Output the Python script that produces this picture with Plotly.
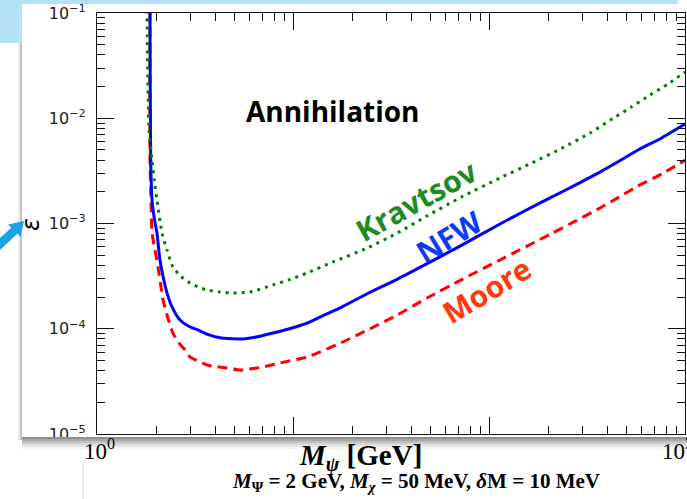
import plotly.graph_objects as go

# ---------------- data ----------------
nfw_x = [1.863, 1.864, 1.879, 1.909, 1.96, 2.023, 2.095, 2.18, 2.275, 2.40, 2.652, 2.95, 3.24, 3.70, 4.24,
         4.90, 5.56, 6.60, 7.91, 9.6, 11.8, 14.3, 17.4, 23.9, 34.0, 48.3, 71.1, 113.8, 150, 204.8,
         280, 368, 460, 575.6, 760, 1000]
nfw_y = [0.15, 0.1, 4.0e-3, 1.67e-3, 1.12e-3, 8.1e-4, 4.5e-4, 3.05e-4, 2.19e-4, 1.65e-4, 1.21e-4,
         1.05e-4, 9.8e-5, 8.8e-5, 8.2e-5, 8.05e-5, 8.0e-5, 8.4e-5, 9.1e-5, 1.0e-4, 1.13e-4, 1.34e-4,
         1.58e-4, 2.15e-4, 2.95e-4, 4.15e-4, 6.1e-4, 9.9e-4, 1.30e-3, 1.75e-3, 2.35e-3, 3.08e-3,
         3.90e-3, 4.99e-3, 6.5e-3, 8.8e-3]

kravtsov_x = [1.80, 1.80, 1.842, 1.909, 1.96, 2.023, 2.146, 2.275, 2.44, 2.68, 2.98, 3.30, 3.64, 4.20,
              4.77, 6.03, 7.91, 9.7, 11.8, 16.0, 23.9, 34.0, 48.3, 73.0, 113.8, 165, 235.7, 330, 429.5,
              530, 662, 820, 1000]
kravtsov_y = [0.15, 0.1, 7.7e-3, 4.0e-3, 2.55e-3, 1.67e-3, 8.1e-4, 5.6e-4, 3.86e-4, 3.15e-4, 2.72e-4,
              2.48e-4, 2.33e-4, 2.24e-4, 2.19e-4, 2.23e-4, 2.61e-4, 2.95e-4, 3.39e-4, 4.31e-4, 5.85e-4,
              8.1e-4, 1.18e-3, 1.80e-3, 2.71e-3, 3.75e-3, 5.2e-3, 7.3e-3, 1.0e-2, 1.27e-2, 1.66e-2,
              2.12e-2, 2.75e-2]

moore_x = [1.863, 1.864, 1.886, 1.909, 1.977, 2.048, 2.11, 2.172, 2.275, 2.44, 2.62, 2.81, 2.98, 3.30,
           3.64, 4.10, 4.61, 5.37, 6.55, 7.50, 8.58, 11.8, 17.4, 23.9, 34.0, 48.3, 73.0, 113.8, 204.8,
           280, 368, 460, 575.6, 760, 1000]
moore_y = [0.15, 4.0e-3, 1.67e-3, 8.1e-4, 5.6e-4, 3.86e-4, 2.65e-4, 1.88e-4, 1.35e-4, 9.1e-5, 7.3e-5,
           6.3e-5, 5.4e-5, 4.9e-5, 4.53e-5, 4.35e-5, 4.24e-5, 4.06e-5, 4.24e-5, 4.45e-5, 4.73e-5,
           5.4e-5, 7.3e-5, 9.7e-5, 1.35e-4, 1.96e-4, 2.95e-4, 4.5e-4, 7.9e-4, 1.07e-3, 1.40e-3,
           1.78e-3, 2.27e-3, 2.95e-3, 4.0e-3]

y_tickvals = [1e-5, 1e-4, 1e-3, 1e-2, 1e-1]
y_ticktext = ["10<sup>\u22125</sup>", "10<sup>\u22124</sup>", "10<sup>\u22123</sup>",
              "10<sup>\u22122</sup>", "10<sup>\u22121</sup>"]
x_tickvals = [1, 10, 100, 1000]
x_minor = [m * 10 ** k for k in range(3) for m in range(2, 10)]
y_minor = [m * 10.0 ** k for k in range(-5, -1) for m in range(2, 10)]

# ---------------- geometry helpers (decoration only) ----------------
W, H = 687, 499
L, R, T, B = 97, 2, 13, 65
PW, PH = W - L - R, H - T - B


def px(x):
    return (x - L) / PW


def py(y):
    return (H - B - y) / PH


fig = go.Figure()
fig.add_trace(go.Scatter(x=moore_x, y=moore_y, mode="lines", name="Moore",
                         line=dict(color="#FF0000", width=3, dash="10px,6px", shape="spline",
                                   smoothing=0.6)))
fig.add_trace(go.Scatter(x=nfw_x, y=nfw_y, mode="lines", name="NFW",
                         line=dict(color="#0000FF", width=3, shape="spline", smoothing=0.6)))
fig.add_trace(go.Scatter(x=kravtsov_x, y=kravtsov_y, mode="lines", name="Kravtsov",
                         line=dict(color="#008000", width=3, dash="3px,5px", shape="spline",
                                   smoothing=0.6)))

fig.update_xaxes(type="log", range=[0, 3], showline=True, linecolor="#111", linewidth=1.3,
                 mirror="allticks", ticks="inside", ticklen=17, tickwidth=1.2, tickcolor="#111",
                 showgrid=False, zeroline=False, tickvals=x_tickvals, showticklabels=False,
                 minor=dict(ticks="inside", ticklen=8, tickwidth=1.2, tickcolor="#111",
                            tickvals=x_minor, showgrid=False))
fig.update_yaxes(type="log", range=[-5, -1], showline=True, linecolor="#111", linewidth=1.3,
                 mirror="allticks", ticks="inside", ticklen=17, tickwidth=1.2, tickcolor="#111",
                 showgrid=False, zeroline=False, tickvals=y_tickvals, ticktext=y_ticktext,
                 ticklabelstandoff=7, tickfont=dict(family="DejaVu Sans", size=16, color="#222"),
                 minor=dict(ticks="inside", ticklen=8, tickwidth=1.2, tickcolor="#111",
                            tickvals=y_minor, showgrid=False))

shapes = []
banner = "#B4E1F8"
shapes.append(dict(type="rect", xref="paper", yref="paper", x0=px(0), x1=px(22), y0=py(43), y1=py(0),
                   fillcolor=banner, line_width=0, layer="above"))
shapes.append(dict(type="rect", xref="paper", yref="paper", x0=px(0), x1=px(678), y0=py(4), y1=py(0),
                   fillcolor=banner, line_width=0, layer="above"))
for x0, col in [(18, "#f1f1f1"), (19, "#e2e2e2"), (20, "#cfcfcf"), (21, "#bdbdbd")]:
    shapes.append(dict(type="rect", xref="paper", yref="paper", x0=px(x0), x1=px(x0 + 1),
                       y0=py(440), y1=py(43), fillcolor=col, line_width=0, layer="above"))
for y0, col in [(437, "#8f8f8f"), (439, "#a8a8a8"), (441, "#c0c0c0"), (443, "#d6d6d6"),
                (445, "#e8e8e8"), (447, "#f4f4f4")]:
    shapes.append(dict(type="rect", xref="paper", yref="paper", x0=px(22), x1=px(W), y0=py(y0 + 2),
                       y1=py(y0), fillcolor=col, line_width=0, layer="above"))
shapes.append(dict(type="line", xref="paper", yref="paper", x0=px(83), x1=px(83), y0=py(499), y1=py(464),
                   line=dict(color="#dddddd", width=1), layer="above"))
arrow_pts = [(24, 221), (20.5, 237), (17.5, 233.5), (-2, 252), (-8, 245.5), (11.5, 227.5), (8, 224.5)]
path = "M " + " L ".join(f"{px(a):.5f},{py(b):.5f}" for a, b in arrow_pts) + " Z"
shapes.append(dict(type="path", xref="paper", yref="paper", path=path, fillcolor="#1AA3E8",
                   line_width=0, layer="above"))
fig.update_layout(shapes=shapes)

ann = []
ann.append(dict(x=1.204, y=-1.931, xref="x", yref="y", text="<b>Annihilation</b>", showarrow=False,
                font=dict(family="Open Sans", size=28, color="#000")))
ann.append(dict(x=1.628, y=-2.786, xref="x", yref="y", text="<b>Kravtsov</b>", showarrow=False,
                textangle=-29, font=dict(family="Open Sans", size=30, color="#1F8C1F")))
ann.append(dict(x=1.796, y=-3.128, xref="x", yref="y", text="<b>NFW</b>", showarrow=False,
                textangle=-31, font=dict(family="Open Sans", size=30, color="#0A3CF5")))
ann.append(dict(x=1.985, y=-3.632, xref="x", yref="y", text="<b>Moore</b>", showarrow=False,
                textangle=-31, font=dict(family="Open Sans", size=30, color="#FF3A0A")))
ann.append(dict(x=0, y=py(433), xref="x", yref="paper", text="10<sup>0</sup>", showarrow=False,
                xanchor="center", yanchor="top", xshift=2,
                font=dict(family="Liberation Serif", size=23, color="#000")))
ann.append(dict(x=3, y=py(433), xref="x", yref="paper", text="10<sup>3</sup>", showarrow=False,
                xanchor="center", yanchor="top", xshift=-8,
                font=dict(family="Liberation Serif", size=23, color="#000")))
ann.append(dict(x=1.342, y=py(437), xref="x", yref="paper",
                text="<b><i>M</i><sub><i>\u03c8</i></sub> [GeV]</b>", showarrow=False,
                xanchor="center", yanchor="top",
                font=dict(family="Liberation Serif", size=29, color="#000")))
ann.append(dict(x=1.628, y=py(482), xref="x", yref="paper",
                text="<b><i>M</i><sub>\u03a8</sub> = 2 GeV, <i>M</i><sub><i>\u03c7</i></sub> = 50 MeV, "
                     "<i>\u03b4</i>M = 10 MeV</b>", showarrow=False,
                xanchor="center", yanchor="middle",
                font=dict(family="Liberation Serif", size=21, color="#000")))
ann.append(dict(x=px(31), y=py(225), xref="paper", yref="paper", text="<i>\u03b5</i>", showarrow=False,
                xanchor="center", yanchor="middle",
                textangle=-90, font=dict(family="DejaVu Sans", size=24, color="#000")))
fig.update_layout(annotations=ann)

fig.update_layout(template="none", width=W, height=H, margin=dict(l=L, r=R, t=T, b=B, pad=0),
                  paper_bgcolor="white", plot_bgcolor="white", showlegend=False)

fig.write_html("out.html")
